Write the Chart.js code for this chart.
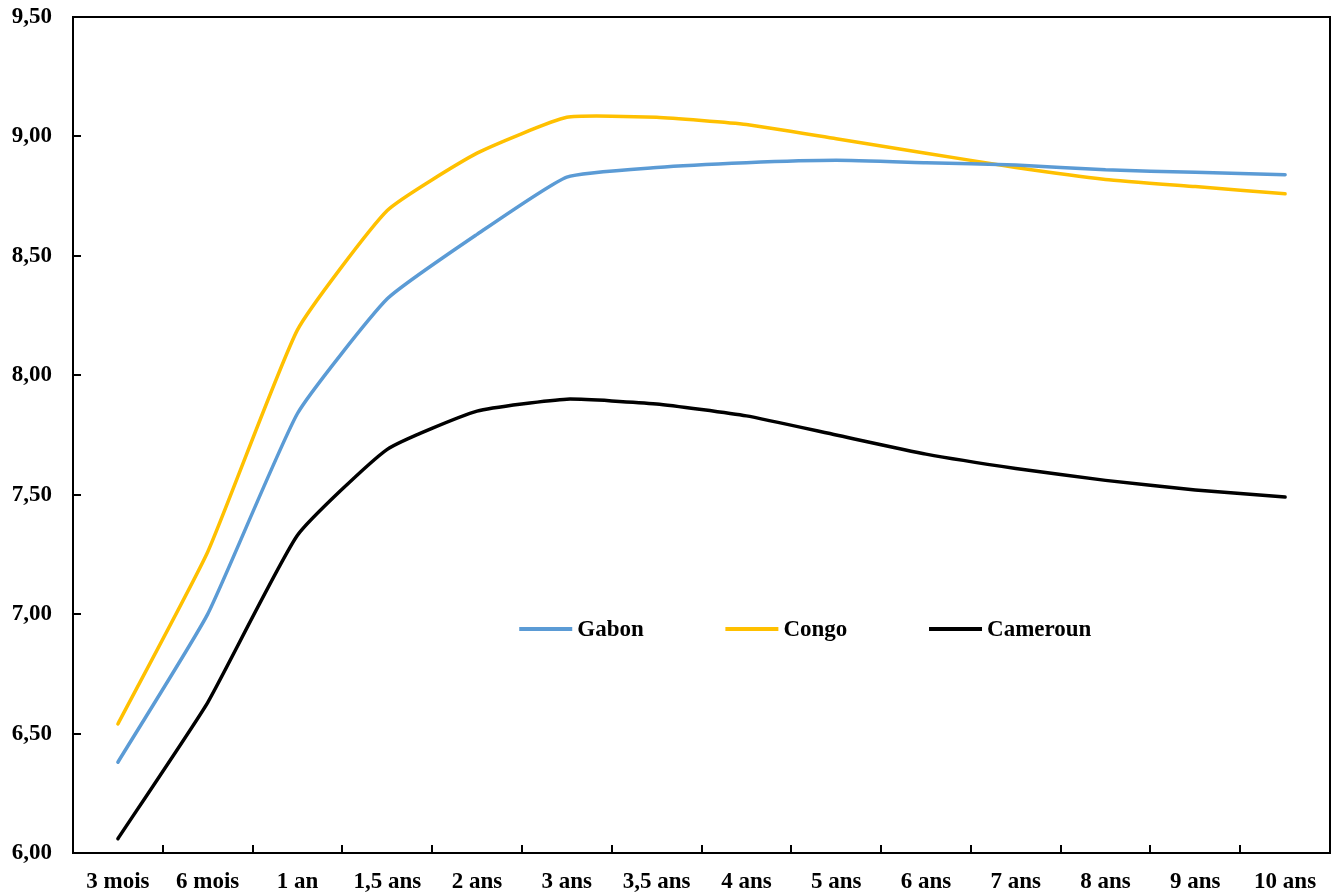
<!DOCTYPE html>
<html>
<head>
<meta charset="utf-8">
<script src="https://cdn.jsdelivr.net/npm/chart.js@4.4.1/dist/chart.umd.min.js"></script>
<style>
  body { margin: 0; background: #fff; }
  canvas { display: block; }
</style>
</head>
<body>
<canvas id="courbe" width="1333" height="896"></canvas>
<script>
// maturites (axe x)
const maturites = ['3 mois', '6 mois', '1 an', '1,5 ans', '2 ans', '3 ans', '3,5 ans', '4 ans', '5 ans', '6 ans', '7 ans', '8 ans', '9 ans', '10 ans'];

// taux par pays
const gabon    = [6.38, 7.00, 7.84, 8.32, 8.59, 8.83, 8.87, 8.89, 8.90, 8.89, 8.88, 8.86, 8.85, 8.84];
const congo    = [6.54, 7.26, 8.19, 8.69, 8.93, 9.08, 9.08, 9.05, 8.99, 8.93, 8.87, 8.82, 8.79, 8.76];
const cameroun = [6.06, 6.63, 7.33, 7.69, 7.85, 7.90, 7.88, 7.83, 7.75, 7.67, 7.61, 7.56, 7.52, 7.49];

const yMin = 6, yMax = 9.5, yStep = 0.5;
const famille = "'Liberation Serif', 'Times New Roman', serif";
const police = "bold 23px " + famille;

// cadre + petites graduations vers l'interieur
const cadre = {
    id: 'cadre',
    afterDatasetsDraw(chart) {
        const ctx = chart.ctx;
        const a = chart.chartArea;
        const xs = chart.scales.x;
        const ys = chart.scales.y;
        ctx.save();
        ctx.strokeStyle = '#000';
        ctx.lineWidth = 2;
        ctx.strokeRect(a.left, a.top, a.right - a.left, a.bottom - a.top);
        ctx.beginPath();
        const n = maturites.length;
        for (let i = 1; i < n; i++) {
            const x = Math.round((xs.getPixelForValue(i - 1) + xs.getPixelForValue(i)) / 2);
            ctx.moveTo(x, a.bottom);
            ctx.lineTo(x, a.bottom - 8);
        }
        ys.ticks.forEach(t => {
            const y = Math.round(ys.getPixelForValue(t.value));
            ctx.moveTo(a.left, y);
            ctx.lineTo(a.left + 8, y);
        });
        ctx.stroke();
        ctx.restore();
    }
};

// legende dans la zone du graphique
const legendeInterne = {
    id: 'legendeInterne',
    afterDraw(chart) {
        const ctx = chart.ctx;
        const a = chart.chartArea;
        const w = a.right - a.left;
        const y = a.top + (a.bottom - a.top) * 0.732;
        const starts = [0.355, 0.519, 0.681];
        ctx.save();
        ctx.font = police;
        ctx.textBaseline = 'middle';
        ctx.fillStyle = '#000';
        chart.data.datasets.forEach((ds, i) => {
            const x = a.left + w * starts[i];
            ctx.strokeStyle = ds.borderColor;
            ctx.lineWidth = 4;
            ctx.beginPath();
            ctx.moveTo(x, y);
            ctx.lineTo(x + 53, y);
            ctx.stroke();
            ctx.fillText(ds.label, x + 58, y + 1);
        });
        ctx.restore();
    }
};

new Chart(document.getElementById('courbe'), {
    type: 'line',
    data: {
        labels: maturites,
        datasets: [
            { label: 'Gabon', data: gabon, borderColor: '#5B9BD5' },
            { label: 'Congo', data: congo, borderColor: '#FFC000' },
            { label: 'Cameroun', data: cameroun, borderColor: '#000000' }
        ]
    },
    options: {
        responsive: false,
        animation: false,
        layout: { padding: { top: 17, right: 3, left: 0, bottom: 0 } },
        elements: {
            line: { borderWidth: 3.5, tension: 0.15, borderCapStyle: 'round' },
            point: { radius: 0 }
        },
        plugins: {
            legend: { display: false },
            tooltip: { enabled: false }
        },
        scales: {
            x: {
                offset: true,
                grid: { display: false },
                border: { display: false },
                ticks: { color: '#000', font: { family: famille, size: 23, weight: 'bold' }, padding: 7, maxRotation: 0, autoSkip: false },
                afterFit(scale) { scale.height = 43; }
            },
            y: {
                min: yMin,
                max: yMax,
                grid: { display: false, drawTicks: false },
                border: { display: false },
                ticks: {
                    stepSize: yStep,
                    color: '#000',
                    padding: 21,
                    font: { family: famille, size: 23, weight: 'bold' },
                    callback: v => v.toFixed(2).replace('.', ',')
                },
                afterFit(scale) {
                    scale.width = 73;
                    scale.paddingTop = 0;
                    scale.paddingBottom = 0;
                }
            }
        }
    },
    plugins: [cadre, legendeInterne]
});
</script>
</body>
</html>
